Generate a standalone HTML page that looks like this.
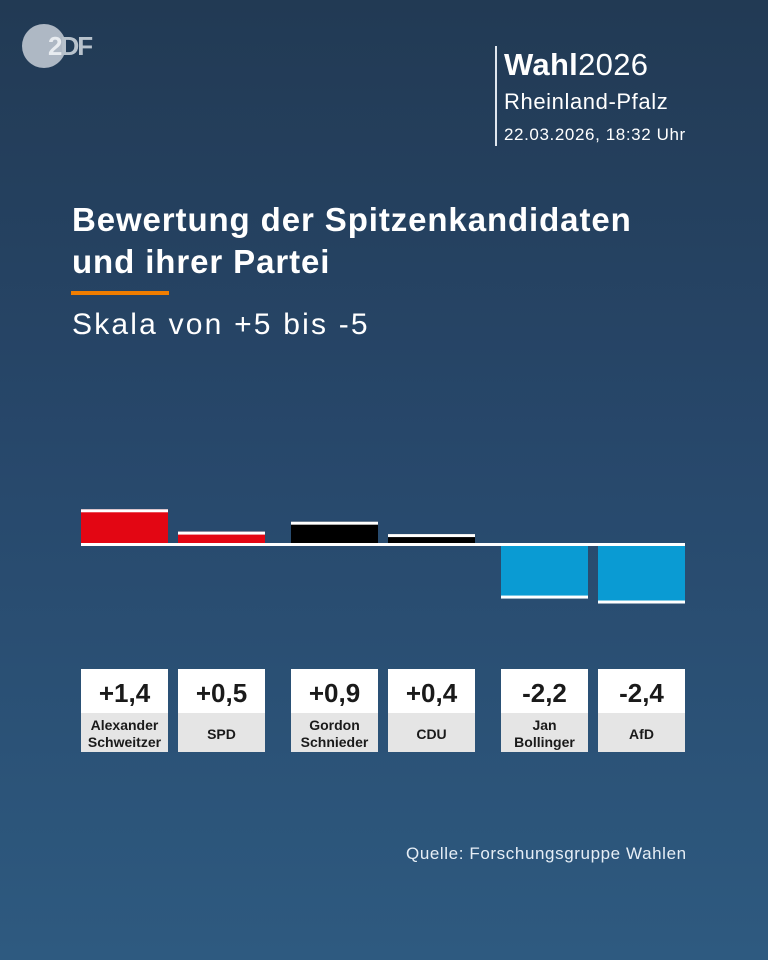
<!DOCTYPE html>
<html><head><meta charset="utf-8">
<style>
html,body{margin:0;padding:0}
body{width:768px;height:960px;overflow:hidden;position:relative;font-family:"Liberation Sans",sans-serif;background:linear-gradient(180deg,#223a54 0%,#27476a 45%,#2e5a80 100%);color:#fff}
.abs{position:absolute}
</style></head><body>
<div class="abs" style="left:22px;top:24px;width:44px;height:44px;border-radius:50%;background:#aeb8c4"></div>
<div class="abs" style="left:48px;top:31px;font-size:26px;font-weight:bold;color:#e8ecf0;letter-spacing:-2px">2<span style="color:#b8c2cc">DF</span></div>
<div class="abs" style="left:495px;top:46px;width:2px;height:100px;background:#e0e6ee"></div>
<div class="abs" style="left:504px;top:47px;font-size:31px;line-height:36px;letter-spacing:0.3px"><b>Wahl</b>2026</div>
<div class="abs" style="left:504px;top:89px;font-size:22px;letter-spacing:0.6px">Rheinland-Pfalz</div>
<div class="abs" style="left:504px;top:125px;font-size:17px;letter-spacing:0.6px">22.03.2026, 18:32 Uhr</div>
<div class="abs" style="left:72px;top:199px;font-size:33px;font-weight:bold;line-height:42px;letter-spacing:0.9px">Bewertung der Spitzenkandidaten<br>und ihrer Partei</div>
<div class="abs" style="left:71px;top:291px;width:98px;height:4px;background:#f07d00"></div>
<div class="abs" style="left:72px;top:308px;font-size:30px;letter-spacing:2.2px">Skala von +5 bis -5</div>
<svg class="abs" style="left:0;top:0" width="768" height="960" id="chart"></svg>
<div class="abs" style="left:406px;top:844px;font-size:17px;letter-spacing:0.6px;color:#e6eef6">Quelle: Forschungsgruppe Wahlen</div>
<script>
const categories=["Alexander\nSchweitzer","SPD","Gordon\nSchnieder","CDU","Jan\nBollinger","AfD"];
const values=[1.4,0.5,0.9,0.4,-2.2,-2.4];
const labels=["+1,4","+0,5","+0,9","+0,4","-2,2","-2,4"];
const colors=["#e30613","#e30613","#000000","#000000","#0a9bd3","#0a9bd3"];
const xs=[81,178,291,388,501,598];
const bw=87, base=544, k=24.8;
const y=v=>base-v*k;
const NS="http://www.w3.org/2000/svg";
const svg=document.getElementById('chart');
function mk(t,a){const e=document.createElementNS(NS,t);for(const n in a)e.setAttribute(n,a[n]);svg.appendChild(e);return e;}
values.forEach((v,i)=>{
  const x=xs[i];const top=Math.min(y(v),base),h=Math.abs(y(v)-base);
  const r=mk('rect',{x:x,y:top,width:bw,height:h,fill:colors[i]});
  
  
  const cy=v>=0?y(v):y(v)-3;
  const c=mk('rect',{x:x,y:cy,width:bw,height:3,fill:'#fff'});
  
  
  const b=mk('rect',{x:x,y:669,width:bw,height:44,fill:'#fff'});
  
  
  const t=mk('text',{x:x+bw/2,y:702,'text-anchor':'middle','font-size':26,'font-weight':'bold',fill:'#1a1a1a','font-family':'Liberation Sans, sans-serif'});
  t.textContent=labels[i];
  
  
  const n=mk('rect',{x:x,y:713,width:bw,height:39,fill:'#e5e5e5'});
  
  
  const lines=categories[i].split('\n');
  lines.forEach((ln,j)=>{
    const yy=lines.length===1?739:730+j*17;
    const tt=mk('text',{x:x+bw/2,y:yy,'text-anchor':'middle','font-size':14,'font-weight':'bold',fill:'#1a1a1a','font-family':'Liberation Sans, sans-serif'});
    tt.textContent=ln;
    
    
  });
});
const bl=mk('rect',{x:81,y:base-1,width:604,height:3,fill:'#fff'});


</script>
</body></html>
